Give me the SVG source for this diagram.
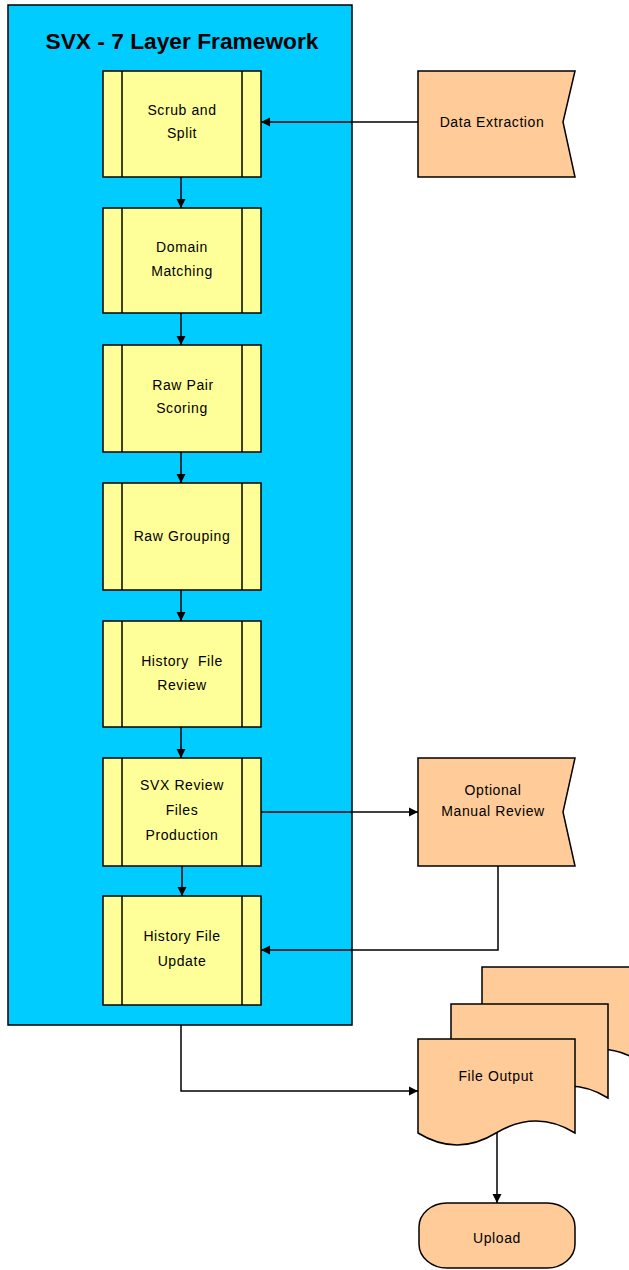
<svg xmlns="http://www.w3.org/2000/svg" width="629" height="1270" viewBox="0 0 629 1270">
<style>
.proc{fill:#FFFF99;stroke:#000;stroke-width:1.5}
.inner{stroke:#000;stroke-width:1.5}
.peach{fill:#FFCC99;stroke:#000;stroke-width:1.5}
.t{font-family:"Liberation Sans",Arial,sans-serif;font-size:14px;fill:#000;text-anchor:middle;letter-spacing:0.6px}
.title{font-family:"Liberation Sans",Arial,sans-serif;font-size:22px;font-weight:bold;fill:#000;text-anchor:middle}
.c{fill:none;stroke:#000;stroke-width:1.5}
</style>
<defs>
<marker id="ah" markerWidth="10" markerHeight="10" refX="9" refY="5" orient="auto" markerUnits="userSpaceOnUse">
<path d="M0,0.5 L9,5 L0,9.5 Z" fill="#000"/>
</marker>
</defs>
<rect width="629" height="1270" fill="#fff"/>
<g id="frame">
<rect x="8" y="5" width="344" height="1020" fill="#00CCFF" stroke="#000" stroke-width="1.5"/>
<text class="title" x="182" y="49" textLength="273" lengthAdjust="spacingAndGlyphs">SVX - 7 Layer Framework</text>
</g>
<g id="scrub">
<rect class="proc" x="103" y="71" width="158" height="106"/>
<line class="inner" x1="122" y1="71" x2="122" y2="177"/><line class="inner" x1="242" y1="71" x2="242" y2="177"/>
<text class="t" x="182" y="115">Scrub and</text><text class="t" x="182" y="138">Split</text>
</g>
<g id="domain">
<rect class="proc" x="103" y="208" width="158" height="105"/>
<line class="inner" x1="122" y1="208" x2="122" y2="313"/><line class="inner" x1="242" y1="208" x2="242" y2="313"/>
<text class="t" x="182" y="252">Domain</text><text class="t" x="182" y="276">Matching</text>
</g>
<g id="rawpair">
<rect class="proc" x="103" y="345" width="158" height="107"/>
<line class="inner" x1="122" y1="345" x2="122" y2="452"/><line class="inner" x1="242" y1="345" x2="242" y2="452"/>
<text class="t" x="183" y="390">Raw Pair</text><text class="t" x="182" y="413">Scoring</text>
</g>
<g id="rawgroup">
<rect class="proc" x="103" y="483" width="158" height="107"/>
<line class="inner" x1="122" y1="483" x2="122" y2="590"/><line class="inner" x1="242" y1="483" x2="242" y2="590"/>
<text class="t" x="182" y="541">Raw Grouping</text>
</g>
<g id="histreview">
<rect class="proc" x="103" y="621" width="158" height="106"/>
<line class="inner" x1="122" y1="621" x2="122" y2="727"/><line class="inner" x1="242" y1="621" x2="242" y2="727"/>
<text class="t" x="182" y="666" xml:space="preserve">History  File</text><text class="t" x="182" y="690">Review</text>
</g>
<g id="svxreview">
<rect class="proc" x="103" y="758" width="158" height="108"/>
<line class="inner" x1="122" y1="758" x2="122" y2="866"/><line class="inner" x1="242" y1="758" x2="242" y2="866"/>
<text class="t" x="182" y="790">SVX Review</text><text class="t" x="182" y="815">Files</text><text class="t" x="182" y="840">Production</text>
</g>
<g id="histupdate">
<rect class="proc" x="103" y="896" width="158" height="109"/>
<line class="inner" x1="122" y1="896" x2="122" y2="1005"/><line class="inner" x1="242" y1="896" x2="242" y2="1005"/>
<text class="t" x="182" y="941">History File</text><text class="t" x="182" y="966">Update</text>
</g>
<g id="extraction">
<path class="peach" d="M418,71 H575 L563,122 L575,177 H418 Z"/>
<text class="t" x="492" y="127">Data Extraction</text>
</g>
<g id="manual">
<path class="peach" d="M418,758 H575 L563,812 L575,866 H418 Z"/>
<text class="t" x="493" y="795">Optional</text><text class="t" x="493" y="816">Manual Review</text>
</g>
<g id="fileoutput">
<path class="peach" d="M482,967 H639 V1061 C613,1045 587,1045 560,1061 C534,1077 508,1077 482,1061 Z"/>
<path class="peach" d="M451,1004 H608 V1098 C582,1082 556,1082 529,1098 C503,1114 477,1114 451,1098 Z"/>
<path class="peach" d="M418,1039 H575 V1133 C549,1117 523,1117 496,1133 C470,1149 444,1149 418,1133 Z"/>
<text class="t" x="496" y="1081">File Output</text>
</g>
<g id="upload">
<rect class="peach" x="419" y="1203" width="156" height="65" rx="28" ry="24"/>
<text class="t" x="497" y="1243">Upload</text>
</g>
<g id="connectors">
<line class="c" x1="181" y1="177" x2="181" y2="208" marker-end="url(#ah)"/>
<line class="c" x1="181" y1="313" x2="181" y2="345" marker-end="url(#ah)"/>
<line class="c" x1="181" y1="452" x2="181" y2="483" marker-end="url(#ah)"/>
<line class="c" x1="181" y1="590" x2="181" y2="621" marker-end="url(#ah)"/>
<line class="c" x1="181" y1="727" x2="181" y2="758" marker-end="url(#ah)"/>
<line class="c" x1="182" y1="866" x2="182" y2="896" marker-end="url(#ah)"/>
<line class="c" x1="418" y1="122" x2="261" y2="122" marker-end="url(#ah)"/>
<line class="c" x1="261" y1="812" x2="418" y2="812" marker-end="url(#ah)"/>
<polyline class="c" points="498,866 498,950 261,950" marker-end="url(#ah)"/>
<polyline class="c" points="181,1025 181,1091 418,1091" marker-end="url(#ah)"/>
<line class="c" x1="497" y1="1133" x2="497" y2="1203" marker-end="url(#ah)"/>
</g>
</svg>
